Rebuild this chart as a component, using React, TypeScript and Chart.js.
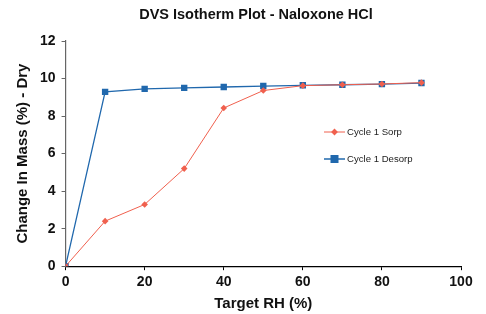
import React, { useEffect, useRef } from "react";
import { Chart, registerables } from "chart.js";

Chart.register(...registerables);

const rhValues = [0, 10, 20, 30, 40, 50, 60, 70, 80, 90];
const sorpValues = [0, 2.4, 3.29, 5.2, 8.43, 9.36, 9.62, 9.67, 9.71, 9.78];
const desorpValues = [0, 9.29, 9.45, 9.5, 9.55, 9.6, 9.64, 9.67, 9.7, 9.76];
const seriesNames = ["Cycle 1 Sorp", "Cycle 1 Desorp"];
const titleText = "DVS Isotherm Plot - Naloxone HCl";
const xTitle = "Target RH (%)";
const yTitle = "Change In Mass (%) - Dry";

const SORP = "#f0604e";
const DESORP = "#2068ad";
const FONT = "'Liberation Sans', Arial, sans-serif";

const legendPlugin = {
  id: "insideLegend",
  afterDraw(chart: any) {
    const ctx = chart.ctx;
    const ds = chart.data.datasets;
    const x0 = 324;
    const ys = [132, 159];
    ctx.save();
    ctx.fillStyle = "#111";
    ctx.font = `bold 14.5px ${FONT}`;
    ctx.textAlign = "center";
    ctx.textBaseline = "middle";
    ctx.fillText(titleText, 256, 15);
    ds.forEach((d: any, i: number) => {
      const y = ys[i];
      ctx.strokeStyle = d.borderColor;
      ctx.lineWidth = i === 0 ? 1 : 1.5;
      ctx.beginPath();
      ctx.moveTo(x0, y);
      ctx.lineTo(x0 + 21, y);
      ctx.stroke();
      ctx.fillStyle = d.backgroundColor;
      if (i === 0) {
        ctx.beginPath();
        ctx.moveTo(x0 + 10.5, y - 3.4);
        ctx.lineTo(x0 + 13.9, y);
        ctx.lineTo(x0 + 10.5, y + 3.4);
        ctx.lineTo(x0 + 7.1, y);
        ctx.closePath();
        ctx.fill();
      } else {
        ctx.fillRect(x0 + 6.5, y - 4, 8, 8);
      }
      ctx.fillStyle = "#222";
      ctx.font = `9.6px ${FONT}`;
      ctx.textBaseline = "middle";
      ctx.textAlign = "left";
      ctx.fillText(d.label, x0 + 23, y);
    });
    ctx.restore();
  },
};

export default function App() {
  const ref = useRef<HTMLCanvasElement>(null);
  useEffect(() => {
    document.body.style.margin = "0";
    const canvas = ref.current!;
    const chart = new Chart(canvas, {
      type: "line",
      data: {
        datasets: [
          {
            label: seriesNames[0],
            data: rhValues.map((x, i) => ({ x, y: sorpValues[i] })),
            borderColor: SORP,
            backgroundColor: SORP,
            borderWidth: 1,
            pointStyle: "rectRot",
            pointRadius: 3.3,
            pointBorderWidth: 0,
          },
          {
            label: seriesNames[1],
            data: rhValues.map((x, i) => ({ x, y: desorpValues[i] })),
            borderColor: DESORP,
            backgroundColor: DESORP,
            borderWidth: 1.3,
            pointStyle: "rect",
            pointRadius: 4.5,
            pointBorderWidth: 0,
          },
        ],
      },
      options: {
        animation: false,
        responsive: false,
        layout: { padding: { left: 14, right: 25, top: 41, bottom: 1 } },
        plugins: {
          legend: { display: false },
          tooltip: { enabled: false },
          title: { display: false },
        },
        scales: {
          x: {
            type: "linear",
            min: 0,
            max: 100,
            ticks: {
              stepSize: 20,
              color: "#111",
              font: { family: FONT, size: 14, weight: "bold" },
              padding: 4,
            },
            grid: { drawOnChartArea: false, drawTicks: true, tickLength: 4, color: "#000" },
            border: { color: "#000", width: 1.2 },
            title: {
              display: true,
              text: xTitle,
              color: "#111",
              font: { family: FONT, size: 15, weight: "bold" },
              padding: { top: 0, bottom: 0 },
            },
          },
          y: {
            type: "linear",
            min: 0,
            max: 12,
            ticks: {
              stepSize: 2,
              color: "#111",
              font: { family: FONT, size: 14, weight: "bold" },
              padding: 6,
            },
            grid: { drawOnChartArea: false, drawTicks: true, tickLength: 4, color: "#666" },
            border: { color: "#666", width: 1.2 },
            title: {
              display: true,
              text: yTitle,
              color: "#111",
              font: { family: FONT, size: 15, weight: "bold" },
              padding: { top: 0, bottom: 2 },
            },
          },
        },
      },
      plugins: [legendPlugin],
    });
    return () => chart.destroy();
  }, []);
  return <canvas ref={ref} width={486} height={314} style={{ display: "block" }} />;
}
